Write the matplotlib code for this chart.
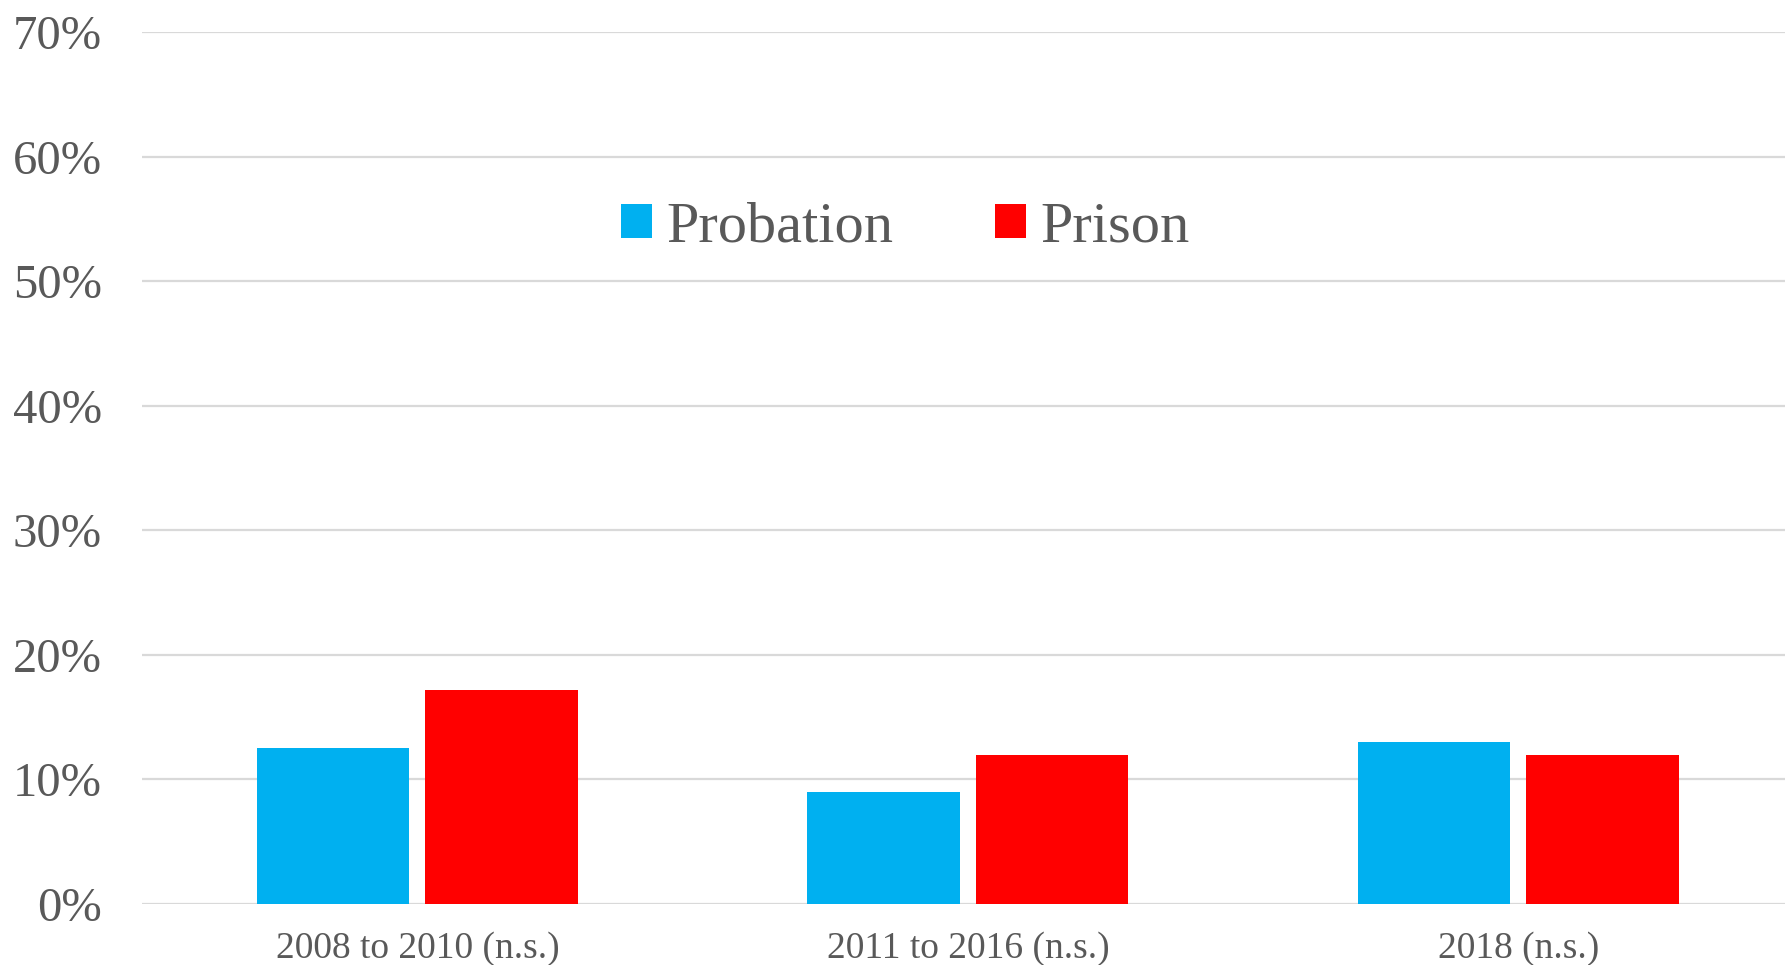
import numpy as np
import matplotlib
matplotlib.use('Agg')
import matplotlib.pyplot as plt
from matplotlib.ticker import PercentFormatter

# ============== DATA ==============
categories = ['2008 to 2010 (n.s.)', '2011 to 2016 (n.s.)', '2018 (n.s.)']
probation = [12.5, 9.0, 13.0]
prison = [17.2, 12.0, 12.0]
series_names = ['Probation', 'Prison']
# ==================================

BLUE = '#00B0F0'
RED = '#FF0000'
TEXT = '#595959'
GRID = '#D9D9D9'

plt.rcParams['font.family'] = ['Liberation Serif', 'DejaVu Serif']

fig = plt.figure(figsize=(17.85, 9.65), dpi=100)
# axes runs a little past the right edge of the figure, as in the source
ax = fig.add_axes([0.0796, 0.0632, 0.9252, 0.9036])

x = np.arange(len(categories))
width = 0.277
ax.bar(x - 0.153, probation, width, color=BLUE, label=series_names[0], zorder=3)
ax.bar(x + 0.153, prison, width, color=RED, label=series_names[1], zorder=3)

ax.set_xlim(-0.5, len(categories) - 0.5)
ax.set_ylim(0, 70)
ax.set_yticks(np.arange(0, 71, 10))
ax.yaxis.set_major_formatter(PercentFormatter(decimals=0))
ax.grid(axis='y', color=GRID, linewidth=1.6, zorder=0)
ax.set_axisbelow(True)

ax.set_xticks(x)
ax.set_xticklabels(categories)
ax.tick_params(axis='x', length=0, labelsize=27, labelcolor=TEXT, pad=20)
ax.tick_params(axis='y', length=0, labelsize=35, labelcolor=TEXT, pad=29)

for s in ax.spines.values():
    s.set_visible(False)

leg = fig.legend(loc='center left', bbox_to_anchor=(0.335, 0.764), ncol=2,
                 frameon=False, fontsize=42, handlelength=0.52, handleheight=0.52,
                 handletextpad=0.25, columnspacing=1.75, borderaxespad=0)
for t in leg.get_texts():
    t.set_color(TEXT)

fig.savefig('out.png', dpi=100)
